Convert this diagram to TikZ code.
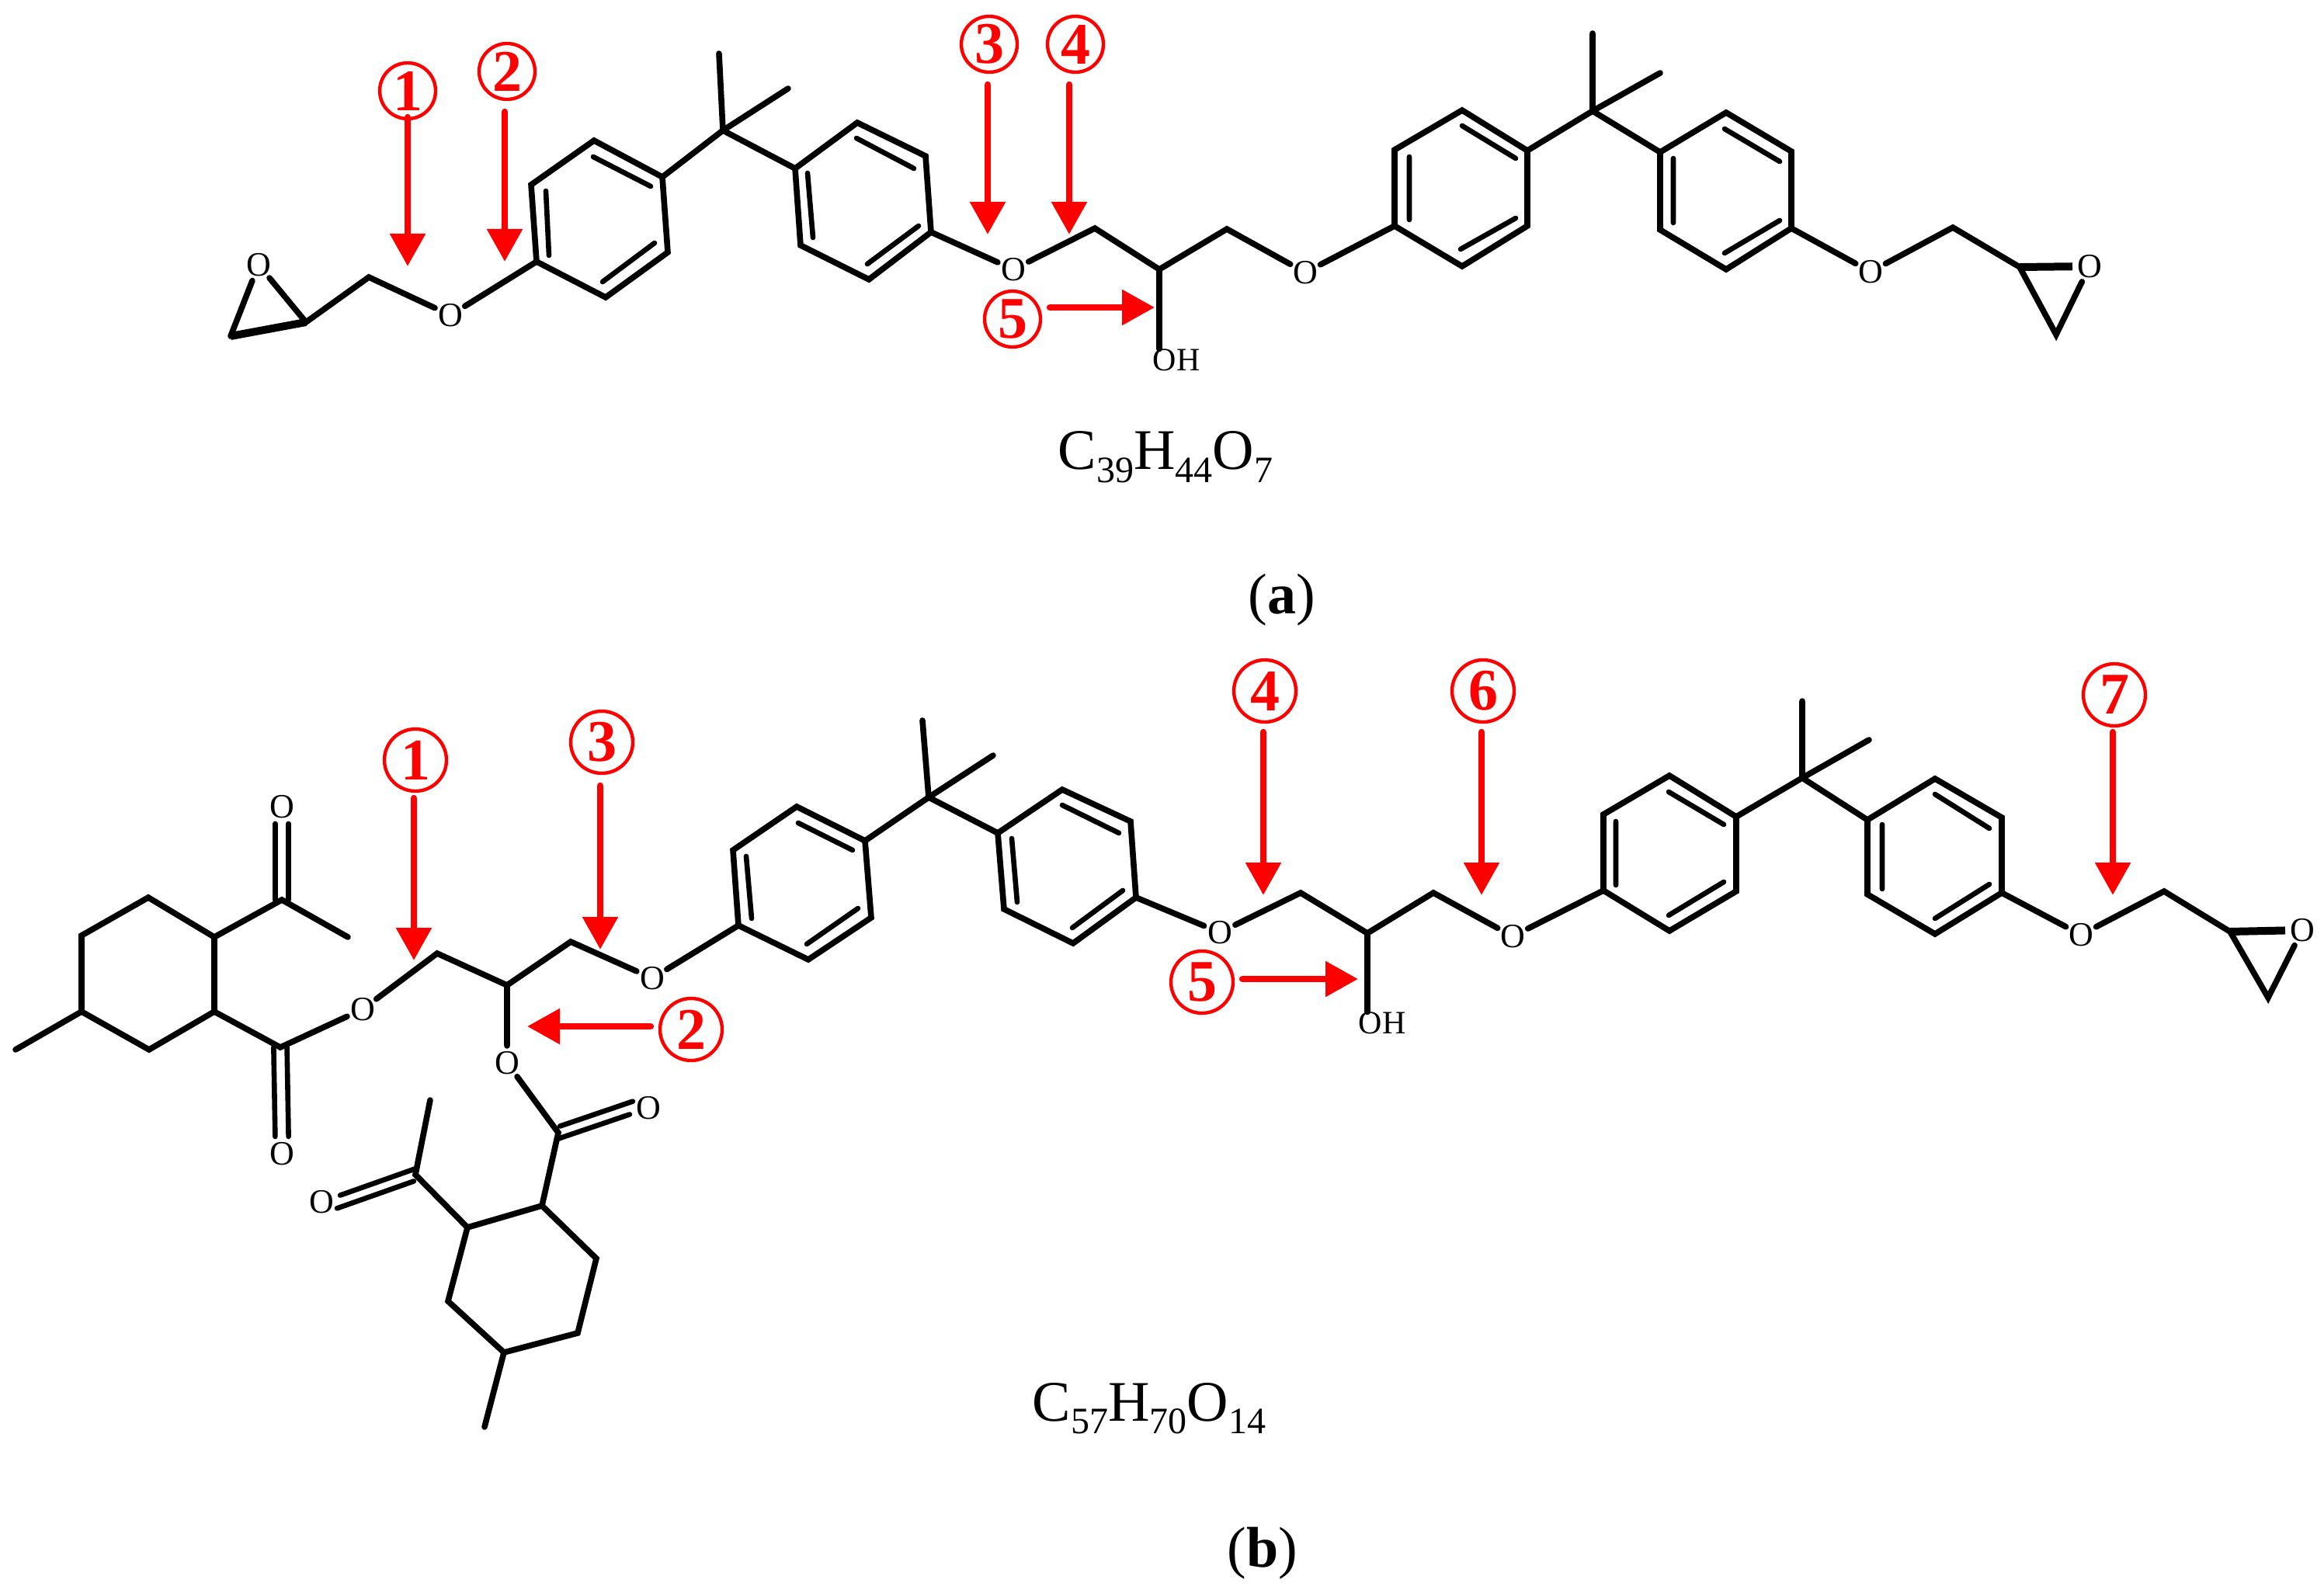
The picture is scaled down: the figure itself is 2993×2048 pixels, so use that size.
\documentclass[tikz,border=0pt]{standalone}
\usepackage{fontspec}
\setmainfont{Liberation Serif}
\usetikzlibrary{arrows.meta}
\newcommand{\chemsub}[1]{\raisebox{-.22em}{\fontsize{24}{24}\selectfont #1}}
\tikzset{
	bond/.style={line width=3.8pt, line cap=round, line join=miter},
	innerbond/.style={line width=3.3pt, line cap=round},
	wedgebond/.style={line width=5pt, line cap=butt},
	atom/.style={circle, inner sep=0pt, font=\fontsize{22}{22}\selectfont},
	hydroxyl/.style={inner sep=0pt, font=\fontsize{21}{21}\selectfont},
	pointer/.style={draw=red, line width=4.4pt, line cap=round, -{Triangle[length=21pt,width=22pt]}},
	taga/.style={circle, draw=red, line width=2.2pt, minimum size=36pt, inner sep=0pt, text=red, font=\fontsize{38}{38}\selectfont\bfseries},
	tagb/.style={taga, minimum size=40pt},
	formula/.style={anchor=base, inner sep=0pt, font=\fontsize{37}{37}\selectfont}
}
\begin{document}
\begin{tikzpicture}[x=.5pt, y=-.5pt]
	\useasboundingbox (0,0) rectangle (2993,2048);
	% molecule a, atoms
	\node[atom] (oa1) at (333,341) {O};
	\node[atom] (oa2) at (580,406) {O};
	\node[atom] (oa3) at (1305,347) {O};
	\node[atom] (oa4) at (1681,351) {O};
	\node[atom] (oa5) at (2409,350) {O};
	\node[atom] (oa6) at (2691,343) {O};
	\node[hydroxyl] (oha) at (1515,464) {OH};
	\path (297,433) coordinate (ca1) (394,415) coordinate (ca2) (475,357) coordinate (ca3)
		(1410,294) coordinate (ca4) (1493,347) coordinate (ca5) (1580,295) coordinate (ca6)
		(2515,293) coordinate (ca7) (2601,344) coordinate (ca8) (2648,431) coordinate (ca9);
	\path (691,337) coordinate (pa1) (780,383) coordinate (pa2) (860,325) coordinate (pa3)
		(853,228) coordinate (pa4) (765,181) coordinate (pa5) (684,238) coordinate (pa6);
	\path (1024,217) coordinate (qa1) (1104,158) coordinate (qa2) (1192,201) coordinate (qa3)
		(1199,299) coordinate (qa4) (1119,360) coordinate (qa5) (1031,316) coordinate (qa6);
	\path (1796,291) coordinate (ra1) (1883,343) coordinate (ra2) (1967,291) coordinate (ra3)
		(1967,194) coordinate (ra4) (1883,142) coordinate (ra5) (1796,193) coordinate (ra6);
	\path (2138,196) coordinate (sa1) (2223,145) coordinate (sa2) (2307,195) coordinate (sa3)
		(2307,294) coordinate (sa4) (2223,347) coordinate (sa5) (2138,296) coordinate (sa6);
	\path (931,168) coordinate (ma1) (926,69) coordinate (ma2) (1015,114) coordinate (ma3)
		(2051,143) coordinate (ma4) (2051,43) coordinate (ma5) (2138,94) coordinate (ma6);
	% molecule a, bonds
	\draw[bond] (pa1)--(pa2)--(pa3)--(pa4)--(pa5)--(pa6)--cycle;
	\draw[bond] (qa1)--(qa2)--(qa3)--(qa4)--(qa5)--(qa6)--cycle;
	\draw[bond] (ra1)--(ra2)--(ra3)--(ra4)--(ra5)--(ra6)--cycle;
	\draw[bond] (sa1)--(sa2)--(sa3)--(sa4)--(sa5)--(sa6)--cycle;
	\draw[bond] (oa1)--(ca2)--(ca3)--(oa2)--(pa1);
	\draw[bond] (oa1)--(ca1);
	\draw[wedgebond] (ca1)--(ca2);
	\draw[bond] (pa4)--(ma1)--(qa1) (ma2)--(ma1)--(ma3);
	\draw[bond] (qa4)--(oa3)--(ca4)--(ca5)--(ca6)--(oa4)--(ra1);
	\draw[bond] (ca5)--(ca5 |- oha.north);
	\draw[bond] (ra4)--(ma4)--(sa1) (ma5)--(ma4)--(ma6);
	\draw[bond] (sa4)--(oa5)--(ca7)--(ca8)--(ca9)--(oa6);
	\draw[wedgebond] (ca8)--(oa6);
	\path (703,246) coordinate (ia1) (707,329) coordinate (ia2) (776,363) coordinate (ia3) (843,313) coordinate (ia4) (764,202) coordinate (ia5) (838,240) coordinate (ia6)
		(1040,223) coordinate (ia7) (1047,306) coordinate (ia8) (1103,178) coordinate (ia9) (1177,217) coordinate (ia10) (1117,340) coordinate (ia11) (1183,291) coordinate (ia12)
		(1815,202) coordinate (ia13) (1815,283) coordinate (ia14) (1881,321) coordinate (ia15) (1952,281) coordinate (ia16) (1883,162) coordinate (ia17) (1952,204) coordinate (ia18)
		(2155,204) coordinate (ia19) (2155,287) coordinate (ia20) (2221,166) coordinate (ia21) (2292,208) coordinate (ia22) (2221,326) coordinate (ia23) (2292,284) coordinate (ia24);
	\draw[innerbond] (ia1)--(ia2) (ia3)--(ia4) (ia5)--(ia6) (ia7)--(ia8) (ia9)--(ia10) (ia11)--(ia12);
	\draw[innerbond] (ia13)--(ia14) (ia15)--(ia16) (ia17)--(ia18) (ia19)--(ia20) (ia21)--(ia22) (ia23)--(ia24);
	% molecule a, marks
	\path (525,343) coordinate (tipa1) (650,337) coordinate (tipa2) (1272,302) coordinate (tipa3) (1377,302) coordinate (tipa4) (1487,396) coordinate (tipa5);
	\node[taga] (taga1) at (525,117) {1};
	\node[taga] (taga2) at (653,92) {2};
	\node[taga] (taga3) at (1274,57) {3};
	\node[taga] (taga4) at (1385,57) {4};
	\node[taga] (taga5) at (1304,411) {5};
	\draw[pointer, shorten <=-2pt] (tipa1 |- taga1.south)--(tipa1);
	\draw[pointer, shorten <=7pt] (tipa2 |- taga2.south)--(tipa2);
	\draw[pointer, shorten <=7pt] (tipa3 |- taga3.south)--(tipa3);
	\draw[pointer, shorten <=7pt] (tipa4 |- taga4.south)--(tipa4);
	\draw[pointer, shorten <=5pt] (taga5.east |- tipa5)--(tipa5);
	\node[formula] (formulaa) at (1501,605) {C\chemsub{39}H\chemsub{44}O\chemsub{7}};
	\node[formula] (captiona) at (1651,790) {(\textbf{a})};
	% molecule b, atoms
	\node[atom] (ob1) at (363,1039) {O};
	\node[atom] (ob2) at (363,1486) {O};
	\node[atom] (ob3) at (467,1300) {O};
	\node[atom] (ob4) at (653,1369) {O};
	\node[atom] (ob5) at (835,1427) {O};
	\node[atom] (ob6) at (414,1548) {O};
	\node[atom] (ob7) at (840,1260) {O};
	\node[atom] (ob8) at (1571,1201) {O};
	\node[atom] (ob9) at (1948,1206) {O};
	\node[atom] (ob10) at (2680,1204) {O};
	\node[atom] (ob11) at (2965,1198) {O};
	\node[hydroxyl] (ohb) at (1780,1318) {OH};
	\path (276,1207) coordinate (xb1) (191,1156) coordinate (xb2) (105,1205) coordinate (xb3)
		(105,1303) coordinate (xb4) (192,1352) coordinate (xb5) (276,1303) coordinate (xb6);
	\path (698,1553) coordinate (yb1) (602,1581) coordinate (yb2) (577,1676) coordinate (yb3)
		(649,1742) coordinate (yb4) (744,1717) coordinate (yb5) (768,1621) coordinate (yb6);
	\path (951,1192) coordinate (pb1) (944,1095) coordinate (pb2) (1026,1039) coordinate (pb3)
		(1114,1083) coordinate (pb4) (1122,1182) coordinate (pb5) (1041,1236) coordinate (pb6);
	\path (1285,1073) coordinate (qb1) (1368,1017) coordinate (qb2) (1456,1058) coordinate (qb3)
		(1463,1156) coordinate (qb4) (1382,1215) coordinate (qb5) (1293,1171) coordinate (qb6);
	\path (2065,1147) coordinate (rb1) (2150,1199) coordinate (rb2) (2236,1148) coordinate (rb3)
		(2236,1052) coordinate (rb4) (2150,999) coordinate (rb5) (2065,1049) coordinate (rb6);
	\path (2405,1056) coordinate (sb1) (2492,1003) coordinate (sb2) (2578,1053) coordinate (sb3)
		(2578,1150) coordinate (sb4) (2492,1203) coordinate (sb5) (2405,1152) coordinate (sb6);
	\path (20,1352) coordinate (mb1) (363,1159) coordinate (cb1) (448,1207) coordinate (mb2) (361,1349) coordinate (cb2)
		(563,1228) coordinate (cb3) (653,1269) coordinate (cb4) (735,1213) coordinate (cb5) (719,1459) coordinate (cb6)
		(535,1513) coordinate (cb7) (554,1417) coordinate (mb3) (624,1838) coordinate (mb4)
		(1196,1027) coordinate (mb5) (1188,928) coordinate (mb6) (1279,973) coordinate (mb7)
		(1675,1150) coordinate (cb8) (1761,1202) coordinate (cb9) (1846,1150) coordinate (cb10)
		(2321,1002) coordinate (mb8) (2321,903) coordinate (mb9) (2407,953) coordinate (mb10)
		(2787,1148) coordinate (cb11) (2872,1200) coordinate (cb12) (2921,1285) coordinate (cb13);
	% molecule b, bonds
	\draw[bond] (xb1)--(xb2)--(xb3)--(xb4)--(xb5)--(xb6)--cycle;
	\draw[bond] (yb1)--(yb2)--(yb3)--(yb4)--(yb5)--(yb6)--cycle;
	\draw[bond] (pb1)--(pb2)--(pb3)--(pb4)--(pb5)--(pb6)--cycle;
	\draw[bond] (qb1)--(qb2)--(qb3)--(qb4)--(qb5)--(qb6)--cycle;
	\draw[bond] (rb1)--(rb2)--(rb3)--(rb4)--(rb5)--(rb6)--cycle;
	\draw[bond] (sb1)--(sb2)--(sb3)--(sb4)--(sb5)--(sb6)--cycle;
	\draw[bond] (xb4)--(mb1) (xb1)--(cb1)--(mb2) (xb6)--(cb2)--(ob3)--(cb3)--(cb4)--(cb5)--(ob7)--(pb1);
	\draw[bond] (cb4)--(ob4)--(cb6)--(yb1) (yb2)--(cb7)--(mb3) (yb4)--(mb4);
	\draw[bond] (pb4)--(mb5)--(qb1) (mb6)--(mb5)--(mb7);
	\draw[bond] (qb4)--(ob8)--(cb8)--(cb9)--(cb10)--(ob9)--(rb1);
	\draw[bond] (cb9)--(cb9 |- ohb.north);
	\draw[bond] (rb4)--(mb8)--(sb1) (mb9)--(mb8)--(mb10);
	\draw[bond] (sb4)--(ob10)--(cb11)--(cb12)--(cb13)--(ob11);
	\draw[wedgebond] (cb12)--(ob11);
	% double bonds to oxygen
	\draw[innerbond] ([xshift=-4.3pt]cb1)--([xshift=-4.3pt]ob1.south) ([xshift=4.3pt]cb1)--([xshift=4.3pt]ob1.south);
	\draw[innerbond] ([xshift=-4.3pt]cb2)--([xshift=-4.3pt]ob2.north) ([xshift=4.3pt]cb2)--([xshift=4.3pt]ob2.north);
	\draw[innerbond] ([shift={(-1pt,-4.2pt)}]cb6)--([shift={(-1pt,-4.2pt)}]ob5.west) ([shift={(1pt,4.2pt)}]cb6)--([shift={(1pt,4.2pt)}]ob5.west);
	\draw[innerbond] ([shift={(-1pt,-4.2pt)}]cb7)--([shift={(-1pt,-4.2pt)}]ob6.east) ([shift={(1pt,4.2pt)}]cb7)--([shift={(1pt,4.2pt)}]ob6.east);
	\path (961,1103) coordinate (ib1) (968,1183) coordinate (ib2) (1028,1060) coordinate (ib3) (1098,1095) coordinate (ib4) (1039,1216) coordinate (ib5) (1105,1170) coordinate (ib6)
		(1303,1080) coordinate (ib7) (1310,1162) coordinate (ib8) (1368,1037) coordinate (ib9) (1441,1073) coordinate (ib10) (1381,1195) coordinate (ib11) (1446,1147) coordinate (ib12)
		(2081,1058) coordinate (ib13) (2081,1140) coordinate (ib14) (2149,1020) coordinate (ib15) (2220,1062) coordinate (ib16) (2149,1179) coordinate (ib17) (2220,1136) coordinate (ib18)
		(2424,1062) coordinate (ib19) (2424,1145) coordinate (ib20) (2492,1023) coordinate (ib21) (2562,1067) coordinate (ib22) (2492,1183) coordinate (ib23) (2562,1139) coordinate (ib24);
	\draw[innerbond] (ib1)--(ib2) (ib3)--(ib4) (ib5)--(ib6) (ib7)--(ib8) (ib9)--(ib10) (ib11)--(ib12);
	\draw[innerbond] (ib13)--(ib14) (ib15)--(ib16) (ib17)--(ib18) (ib19)--(ib20) (ib21)--(ib22) (ib23)--(ib24);
	% molecule b, marks
	\path (533,1237) coordinate (tipb1) (679,1322) coordinate (tipb2) (773,1223) coordinate (tipb3) (1627,1153) coordinate (tipb4)
		(1749,1261) coordinate (tipb5) (1908,1153) coordinate (tipb6) (2721,1153) coordinate (tipb7);
	\node[tagb] (tagb1) at (535,979) {1};
	\node[tagb] (tagb2) at (890,1326) {2};
	\node[tagb] (tagb3) at (775,956) {3};
	\node[tagb] (tagb4) at (1629,890) {4};
	\node[tagb] (tagb5) at (1548,1265) {5};
	\node[tagb] (tagb6) at (1910,890) {6};
	\node[tagb] (tagb7) at (2723,895) {7};
	\draw[pointer, shorten <=3.5pt] (tipb1 |- tagb1.south)--(tipb1);
	\draw[pointer, shorten <=5pt] (tagb2.west |- tipb2)--(tipb2);
	\draw[pointer, shorten <=7pt] (tipb3 |- tagb3.south)--(tipb3);
	\draw[pointer, shorten <=5.5pt] (tipb4 |- tagb4.south)--(tipb4);
	\draw[pointer, shorten <=5pt] (tagb5.east |- tipb5)--(tipb5);
	\draw[pointer, shorten <=5.5pt] (tipb6 |- tagb6.south)--(tipb6);
	\draw[pointer, shorten <=3pt] (tipb7 |- tagb7.south)--(tipb7);
	\node[formula] (formulab) at (1480,1830) {C\chemsub{57}H\chemsub{70}O\chemsub{14}};
	\node[formula] (captionb) at (1626,2018) {(\textbf{b})};
\end{tikzpicture}
\end{document}
